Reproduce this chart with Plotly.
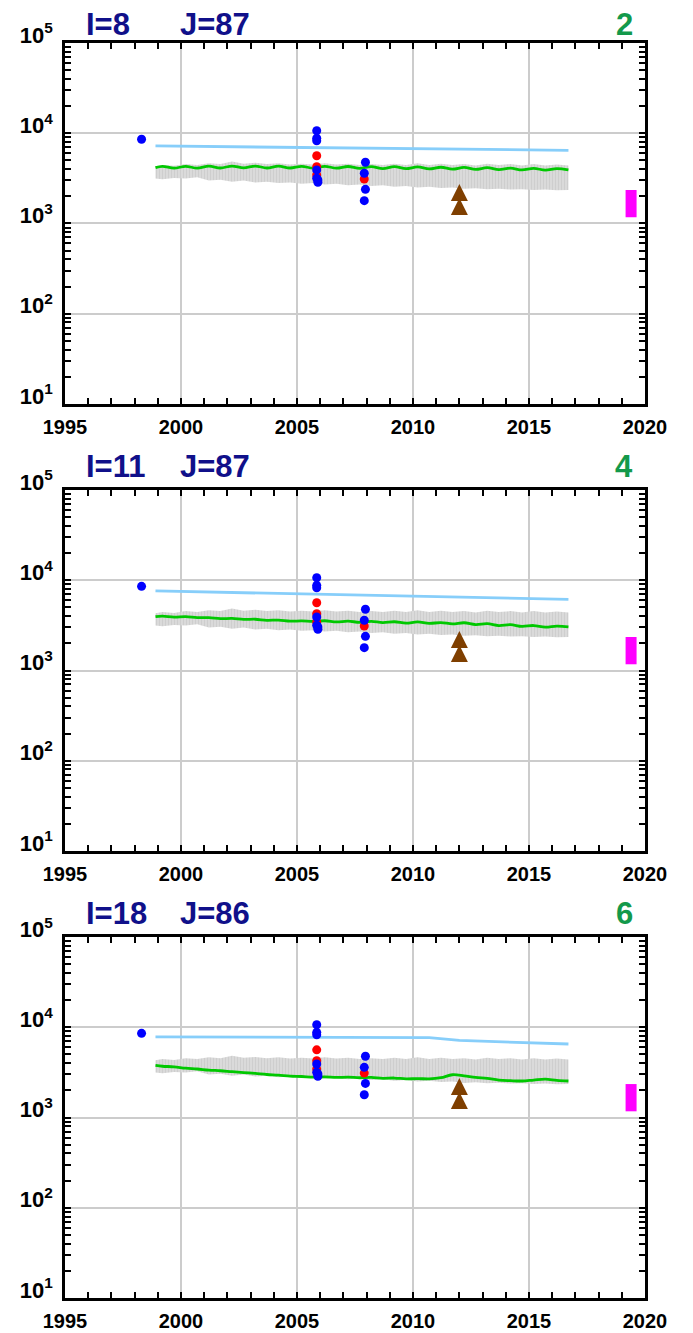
import plotly.graph_objects as go

# model time axis (decimal years), shared by band and green curves
t_model = [1998.9, 1999.2, 1999.7, 2000.2, 2000.7, 2001.2, 2001.7, 2002.2, 2002.7,
           2003.2, 2003.7, 2004.2, 2004.7, 2005.2, 2005.7, 2006.2, 2006.7, 2007.2,
           2007.7, 2008.2, 2008.7, 2009.2, 2009.7, 2010.2, 2010.7, 2011.2, 2011.7,
           2012.2, 2012.7, 2013.2, 2013.7, 2014.2, 2014.7, 2015.2, 2015.7, 2016.2,
           2016.7]

# grey envelope (same in every panel)
band_hi = [4300, 4450, 4350, 4550, 4450, 4650, 4550, 4850, 4600, 4700, 4550, 4650,
           4500, 4600, 4500, 4650, 4500, 4600, 4450, 4550, 4450, 4600, 4450, 4650,
           4450, 4600, 4450, 4550, 4400, 4600, 4450, 4550, 4400, 4550, 4400, 4500,
           4400]
band_lo = [3150, 3100, 3200, 3150, 3250, 3000, 3050, 2900, 3000, 2850, 2900, 2800,
           2850, 2750, 2800, 2700, 2750, 2650, 2700, 2600, 2650, 2550, 2600, 2500,
           2550, 2480, 2500, 2420, 2460, 2400, 2430, 2380, 2400, 2350, 2380, 2340,
           2350]

# green model curve, one per panel
green_p1 = [4150, 4300, 4100, 4300, 4100, 4320, 4120, 4330, 4130, 4330, 4120, 4320,
            4120, 4300, 4100, 4300, 4100, 4280, 4080, 4270, 4060, 4260, 4050, 4230,
            4020, 4200, 4000, 4180, 3980, 4150, 3950, 4100, 3920, 4080, 3900, 4050,
            3920]
green_p2 = [3950, 4000, 3900, 3950, 3850, 3850, 3750, 3780, 3680, 3700, 3600, 3620,
            3520, 3540, 3500, 3560, 3450, 3520, 3420, 3500, 3400, 3470, 3350, 3450,
            3320, 3400, 3280, 3380, 3230, 3300, 3150, 3220, 3080, 3150, 3020, 3100,
            3050]
green_p3 = [3780, 3700, 3650, 3520, 3450, 3350, 3300, 3220, 3150, 3080, 3000, 2950,
            2880, 2850, 2800, 2820, 2780, 2800, 2760, 2780, 2720, 2740, 2680, 2700,
            2680, 2760, 2980, 2900, 2780, 2720, 2600, 2560, 2540, 2600, 2660, 2580,
            2540]

# light blue curve, one per panel
lb_t_p1 = [1998.9, 2016.7]
lb_p1 = [7230, 6470]
lb_t_p2 = [1998.9, 2016.7]
lb_p2 = [7610, 6150]
lb_t_p3 = [1998.9, 2010.7, 2012.0, 2016.7]
lb_p3 = [7820, 7700, 7150, 6530]

# observations (same in every panel)
blue_t = [1998.3, 2005.85, 2005.85, 2005.85, 2005.85, 2005.85, 2005.9, 2005.9,
          2007.95, 2007.9, 2007.95, 2007.9]
blue_v = [8570, 10660, 8790, 8260, 3920, 3170, 3036, 2860, 4770, 3600, 2390, 1790]
red_t = [2005.85, 2005.85, 2005.85, 2007.9]
red_v = [5630, 4260, 3445, 3110]
tri_t = [2012.0, 2012.0]
tri_v = [2740, 1920]
mag_t = [2019.4, 2019.4]
mag_v = [1172, 2350]

panel_I = [8, 11, 18]
panel_J = [87, 87, 86]
panel_num = ["2", "4", "6"]
greens = [green_p1, green_p2, green_p3]
lb_ts = [lb_t_p1, lb_t_p2, lb_t_p3]
lbs = [lb_p1, lb_p2, lb_p3]

y_tickvals = [10, 100, 1000, 10000, 100000]
y_ticktext = ["10<sup>1</sup>", "10<sup>2</sup>", "10<sup>3</sup>",
              "10<sup>4</sup>", "10<sup>5</sup>"]
y_minor = [m * 10 ** e for e in range(1, 5) for m in range(2, 10)]

# page body has an 8px margin -> figure is 8px smaller and margins shifted
W, H = 685, 1325
ML, MR, MT, MB = 57, 48, 35, 35
domains = [[0.7124, 1.0], [0.3562, 0.6438], [0.0, 0.2876]]
title_y = [1.052, 1.064, 1.064]   # top panel title kept inside the figure

FONT = "Liberation Sans, Arial, sans-serif"
fig = go.Figure()

for i in range(3):
    xa = "x" if i == 0 else "x%d" % (i + 1)
    ya = "y" if i == 0 else "y%d" % (i + 1)
    # grey envelope
    fig.add_trace(go.Scatter(x=t_model, y=band_hi, xaxis=xa, yaxis=ya, mode="lines",
                             line=dict(width=0, color="#cfcfcf"), showlegend=False))
    fig.add_trace(go.Scatter(x=t_model, y=band_lo, xaxis=xa, yaxis=ya, mode="lines",
                             line=dict(width=0, color="#cfcfcf"), fill="tonexty",
                             fillcolor="#d6d6d6",
                             fillpattern=dict(shape="|", size=3, solidity=0.45,
                                              fgcolor="#c0c0c0", bgcolor="#dcdcdc"),
                             showlegend=False))
    # light blue
    fig.add_trace(go.Scatter(x=lb_ts[i], y=lbs[i], xaxis=xa, yaxis=ya, mode="lines",
                             line=dict(width=2.8, color="#87cefa"), showlegend=False))
    # green
    fig.add_trace(go.Scatter(x=t_model, y=greens[i], xaxis=xa, yaxis=ya, mode="lines",
                             line=dict(width=2.8, color="#00c800", shape="spline"),
                             showlegend=False))
    # red then blue points
    fig.add_trace(go.Scatter(x=red_t, y=red_v, xaxis=xa, yaxis=ya, mode="markers",
                             marker=dict(size=9, color="#ff0000"), showlegend=False))
    fig.add_trace(go.Scatter(x=blue_t, y=blue_v, xaxis=xa, yaxis=ya, mode="markers",
                             marker=dict(size=9, color="#0000ff"), showlegend=False))
    # brown triangles
    fig.add_trace(go.Scatter(x=tri_t, y=tri_v, xaxis=xa, yaxis=ya, mode="markers",
                             marker=dict(symbol="arrow-up", size=17, color="#7f3f00",
                                         line=dict(width=0)),
                             showlegend=False))
    # magenta bar
    fig.add_trace(go.Scatter(x=mag_t, y=mag_v, xaxis=xa, yaxis=ya, mode="lines",
                             line=dict(width=11, color="#ff00ff"), showlegend=False))

    xkey = "xaxis" if i == 0 else "xaxis%d" % (i + 1)
    ykey = "yaxis" if i == 0 else "yaxis%d" % (i + 1)
    fig.layout[xkey] = dict(
        domain=[0, 1], anchor=ya, range=[1995, 2020], automargin=False,
        tickvals=[1995, 2000, 2005, 2010, 2015, 2020],
        ticks="inside", ticklen=6, tickwidth=2, tickcolor="black",
        minor=dict(tick0=1995, dtick=1, ticks="inside", ticklen=6, tickwidth=2,
                   tickcolor="black", showgrid=False),
        showline=True, linewidth=2.5, linecolor="black", mirror="ticks",
        showgrid=True, gridcolor="#cccccc", gridwidth=2,
        tickfont=dict(family=FONT, size=20, color="black", weight="bold"),
        ticklabelstandoff=3, zeroline=False,
    )
    fig.layout[ykey] = dict(
        domain=domains[i], anchor=xa, type="log", range=[1, 5], automargin=False,
        tickmode="array", tickvals=y_tickvals, ticktext=y_ticktext,
        ticks="inside", ticklen=6, tickwidth=2, tickcolor="black",
        minor=dict(tickmode="array", tickvals=y_minor, ticks="inside", ticklen=6,
                   tickwidth=2, tickcolor="black", showgrid=False),
        showline=True, linewidth=2.5, linecolor="black", mirror="ticks",
        showgrid=True, gridcolor="#cccccc", gridwidth=2,
        tickfont=dict(family=FONT, size=22, color="black", weight="bold"),
        ticklabelshift=-8, ticklabelstandoff=5, zeroline=False,
    )

    # panel titles
    fig.add_annotation(x=0.033, y=title_y[i], xref=xa + " domain", yref=ya + " domain",
                       text="I=%d" % panel_I[i], showarrow=False, xanchor="left",
                       yanchor="middle",
                       font=dict(family=FONT, size=31, color="#10108a", weight="bold"))
    fig.add_annotation(x=0.195, y=title_y[i], xref=xa + " domain", yref=ya + " domain",
                       text="J=%d" % panel_J[i], showarrow=False, xanchor="left",
                       yanchor="middle",
                       font=dict(family=FONT, size=31, color="#10108a", weight="bold"))
    fig.add_annotation(x=0.983, y=title_y[i], xref=xa + " domain", yref=ya + " domain",
                       text=panel_num[i], showarrow=False, xanchor="right",
                       yanchor="middle",
                       font=dict(family=FONT, size=31, color="#13994b", weight="bold"))

fig.update_layout(
    width=W, height=H,
    margin=dict(l=ML, r=MR, t=MT, b=MB),
    paper_bgcolor="white", plot_bgcolor="white",
    showlegend=False,
)

fig.write_html("out.html")
